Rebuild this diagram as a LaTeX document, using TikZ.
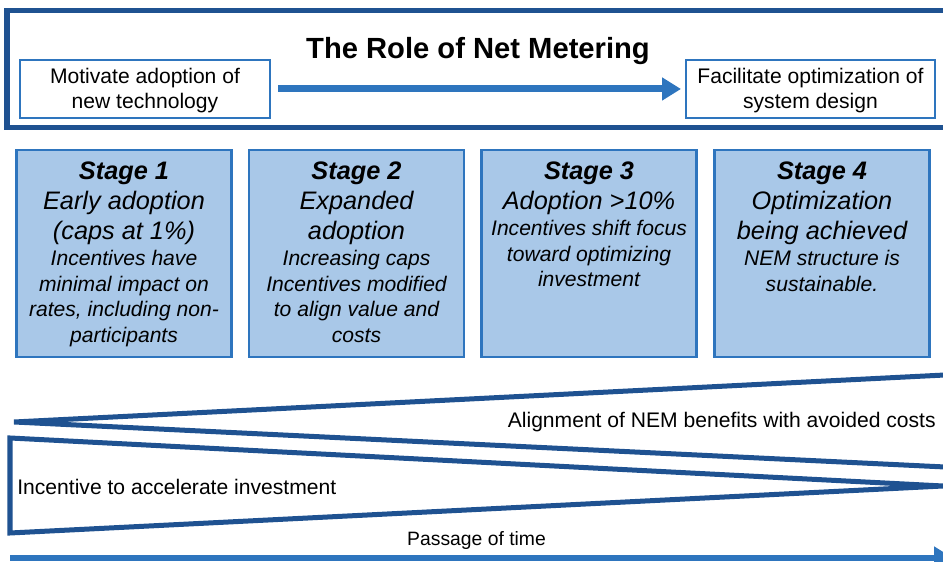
\documentclass[tikz,border=0pt]{standalone}
\usepackage{fontspec}
\setmainfont{Liberation Sans}
\usepackage{xcolor}
\usetikzlibrary{arrows.meta, positioning}
\definecolor{nemnavy}{RGB}{31,82,145}
\definecolor{nemblue}{RGB}{46,117,190}
\definecolor{nemfill}{RGB}{169,200,232}
\tikzset{
	nemframe/.style={draw=nemnavy, line width=0.1cm},
	block/.style={draw=nemblue, line width=0.04cm, align=center, font=\fontsize{12}{14.2}\selectfont},
	stagebox/.style={draw=nemblue, line width=0.05cm, fill=nemfill},
	stagehead/.style={align=center, inner sep=0pt, font=\fontsize{14.4}{17}\selectfont\itshape},
	stagedesc/.style={align=center, inner sep=0pt, font=\fontsize{12}{14.5}\selectfont\itshape},
	wedge/.style={draw=nemnavy, line width=0.1cm},
	bigarrow/.style={draw=nemblue, line width=0.14cm, -{Triangle[length=0.38cm, width=0.44cm]}},
	plaintext/.style={inner sep=0pt, font=\fontsize{12}{14}\selectfont}
}

\begin{document}
\begin{tikzpicture}
		\clip (0,0) rectangle (18.86,11.24);
		
		% top frame
		\node[nemframe, minimum width=19.06cm, minimum height=2.34cm] (frame) at (9.67,9.86) {};
		\node[font=\fontsize{16.6}{20}\selectfont\bfseries] (title) at (9.56,10.22) {The Role of Net Metering};
		
		\node[block, minimum width=5cm, minimum height=1.16cm] (motivate) at (2.9,9.46) {};
		\node[align=center, font=\fontsize{12}{14.2}\selectfont] at ([yshift=-0.04cm]motivate) {Motivate adoption of \\ new technology};
		\node[block, minimum width=4.98cm, minimum height=1.16cm] (facilitate) at (16.21,9.46) {};
		\node[align=center, font=\fontsize{12}{14.2}\selectfont] at ([yshift=-0.04cm]facilitate) {Facilitate optimization of \\ system design};
		
		\draw[bigarrow, shorten <=0.14cm, shorten >=0.08cm] (motivate.east) -- (facilitate.west);
		
		% stages
		\node[stagebox, minimum width=4.3cm, minimum height=4.14cm] (stage1) at (2.48,6.17) {};
		\node[stagehead, below=0.26cm of stage1.north] (head1) {\textbf{Stage 1} \\ Early adoption \\ (caps at 1\%)};
		\node[stagedesc, below=0.1cm of head1] {Incentives have \\ minimal impact on \\ rates, including non- \\ participants};
		
		\node[stagebox, minimum width=4.3cm, minimum height=4.14cm] (stage2) at (7.13,6.17) {};
		\node[stagehead, below=0.26cm of stage2.north] (head2) {\textbf{Stage 2} \\ Expanded \\ adoption};
		\node[stagedesc, below=0.1cm of head2] {Increasing caps \\ Incentives modified \\ to align value and \\ costs};
		
		\node[stagebox, minimum width=4.3cm, minimum height=4.14cm] (stage3) at (11.78,6.17) {};
		\node[stagehead, below=0.26cm of stage3.north] (head3) {\textbf{Stage 3} \\ Adoption >10\%};
		\node[stagedesc, below=0.1cm of head3] {Incentives shift focus \\ toward optimizing \\ investment};
		
		\node[stagebox, minimum width=4.3cm, minimum height=4.14cm] (stage4) at (16.44,6.17) {};
		\node[stagehead, below=0.26cm of stage4.north] (head4) {\textbf{Stage 4} \\ Optimization \\ being achieved};
		\node[stagedesc, below=0.1cm of head4] {NEM structure is \\ sustainable.};
		
		% wedges
		\coordinate (upapex) at (0.28,2.80);
		\coordinate (uptop) at (18.9,3.74);
		\coordinate (upbot) at (18.9,1.90);
		\draw[wedge] (uptop) -- (upapex) -- (upbot);
		
		\coordinate (lowtl) at (0.20,2.48);
		\coordinate (lowbl) at (0.20,0.58);
		\coordinate (lowapex) at (18.86,1.52);
		\draw[wedge] (lowapex) -- (lowtl) -- (lowbl) -- (lowapex);
		
		\node[plaintext, anchor=east] (alignment) at (18.72,2.80) {Alignment of NEM benefits with avoided costs};
		\node[plaintext, anchor=west] (incentive) at (0.34,1.50) {Incentive to accelerate investment};
		
		% time axis
		\node[plaintext, font=\fontsize{11}{13}\selectfont] (time) at (9.53,0.42) {Passage of time};
		\coordinate (tstart) at (0.2,0.08);
		\coordinate (tend) at (19.06,0.08);
		\draw[bigarrow, line width=0.13cm] (tstart) -- (tend);
	\end{tikzpicture}
\end{document}
